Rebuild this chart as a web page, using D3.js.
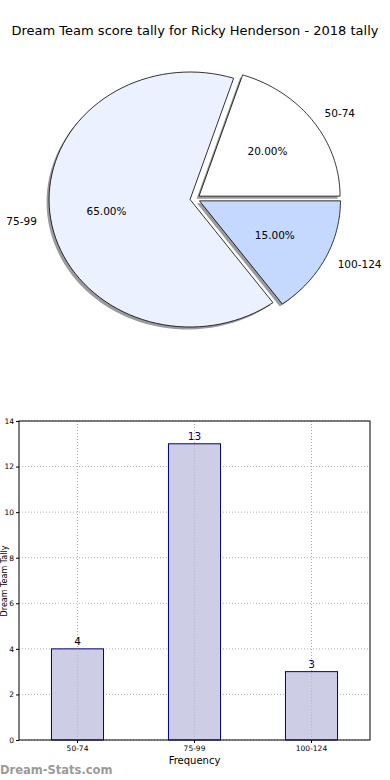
<!DOCTYPE html>
<html><head><meta charset="utf-8">
<script src="https://cdn.jsdelivr.net/npm/d3@7"></script>
<style>body{margin:0;background:#fff}svg{display:block;font-family:"DejaVu Sans",sans-serif}</style>
</head><body>
<svg id="c" width="390" height="780"></svg>
<script>
const title = "Dream Team score tally for Ricky Henderson - 2018 tally";
const categories = ["50-74", "75-99", "100-124"];
const counts = [4, 13, 3];
const pieColors = ["#ffffff", "#ebf1fe", "#c5d8fd"];
const yTicks = [0, 2, 4, 6, 8, 10, 12, 14];
const xLabel = "Frequency";
const yLabel = "Dream Team Tally";
const watermark = "Dream-Stats.com";

const svg = d3.select("#c");
svg.append("text").attr("x", 195).attr("y", 34.5).attr("text-anchor", "middle")
  .attr("font-size", 13).attr("fill", "#000").text(title);

// ---- Pie (elliptical, counter-clockwise from east, all exploded) ----
const cx = 195, cy = 198.8, rx = 141, ry = 127.5, ex = 5 / 141;
const total = d3.sum(counts);
let acc = 0;
const slices = counts.map((v, i) => {
  const a0 = acc / total * 2 * Math.PI; acc += v;
  const a1 = acc / total * 2 * Math.PI;
  return {v, i, a0, a1, mid: (a0 + a1) / 2};
});
const sx = d3.scaleLinear().domain([-1, 1]).range([cx - rx, cx + rx]);
const sy = d3.scaleLinear().domain([-1, 1]).range([cy + ry, cy - ry]);
function wedgePath(s, dx, dy) {
  const ox = ex * Math.cos(s.mid), oy = ex * Math.sin(s.mid);
  const n = 80;
  const pts = [[sx(ox) + dx, sy(oy) + dy]];
  for (let k = 0; k <= n; k++) {
    const a = s.a0 + (s.a1 - s.a0) * k / n;
    pts.push([sx(ox + Math.cos(a)) + dx, sy(oy + Math.sin(a)) + dy]);
  }
  return d3.line()(pts) + "Z";
}
const pg = svg.append("g");
slices.forEach(s => {
  pg.append("path").attr("d", wedgePath(s, -2.5, 2.5)).attr("fill", "#7a7a7a").attr("opacity", 0.75);
});
slices.forEach(s => {
  pg.append("path").attr("d", wedgePath(s, 0, 0)).attr("fill", pieColors[s.i])
    .attr("stroke", "#000").attr("stroke-width", 0.8).attr("stroke-linejoin", "miter");
});
slices.forEach(s => {
  const ox = ex * Math.cos(s.mid), oy = ex * Math.sin(s.mid);
  const c = Math.cos(s.mid), sn = Math.sin(s.mid);
  pg.append("text").attr("x", sx(ox + 1.1 * c)).attr("y", sy(oy + 1.1 * sn))
    .attr("dy", "0.35em").attr("text-anchor", c >= 0 ? "start" : "end")
    .attr("font-size", 10.5).text(categories[s.i]);
  pg.append("text").attr("x", sx(ox + 0.6 * c)).attr("y", sy(oy + 0.6 * sn))
    .attr("dy", "0.35em").attr("text-anchor", "middle")
    .attr("font-size", 10.5).text((s.v / total * 100).toFixed(2) + "%");
});

// ---- Bar chart ----
const L = 19, R = 370, T = 421, B = 740;
const x = d3.scaleBand().domain(categories).range([L, R]).paddingInner(0).paddingOuter(0);
const y = d3.scaleLinear().domain([0, 14]).range([B, T]);
const g = svg.append("g");
const bw = x.bandwidth() * 0.445;
// grid
g.selectAll(".hg").data(yTicks).enter().append("line")
  .attr("x1", L).attr("x2", R).attr("y1", d => y(d)).attr("y2", d => y(d))
  .attr("stroke", "#b0b0b0").attr("stroke-width", 1).attr("stroke-dasharray", "1,2");
g.selectAll(".vg").data(categories).enter().append("line")
  .attr("x1", d => x(d) + x.bandwidth() / 2).attr("x2", d => x(d) + x.bandwidth() / 2)
  .attr("y1", T).attr("y2", B)
  .attr("stroke", "#b0b0b0").attr("stroke-width", 1).attr("stroke-dasharray", "1,2");
g.selectAll(".bar").data(counts).enter().append("rect")
  .attr("x", (d, i) => x(categories[i]) + x.bandwidth() / 2 - bw / 2)
  .attr("y", d => y(d)).attr("width", bw).attr("height", d => B - y(d))
  .attr("fill", "#cdcde5").attr("stroke", "#000080").attr("stroke-width", 1);
g.selectAll(".vg2").data(categories).enter().append("line")
  .attr("x1", d => x(d) + x.bandwidth() / 2).attr("x2", d => x(d) + x.bandwidth() / 2)
  .attr("y1", T).attr("y2", B)
  .attr("stroke", "#a8a8b8").attr("stroke-width", 1).attr("stroke-dasharray", "1,2").attr("opacity", 0.6);
g.selectAll(".val").data(counts).enter().append("text")
  .attr("x", (d, i) => x(categories[i]) + x.bandwidth() / 2)
  .attr("y", d => y(d) - 4).attr("text-anchor", "middle").attr("font-size", 10.5)
  .attr("fill", (d, i) => i === 0 ? "#000" : "#000080").text(d => d);
g.append("rect").attr("x", L).attr("y", T).attr("width", R - L).attr("height", B - T)
  .attr("fill", "none").attr("stroke", "#000").attr("stroke-width", 1);
// axes
const ya = g.append("g").attr("transform", `translate(${L},0)`)
  .call(d3.axisLeft(y).tickValues(yTicks).tickSize(3).tickPadding(2).tickFormat(d3.format("d")));
ya.select(".domain").remove();
ya.selectAll("text").attr("font-size", 7.5).attr("font-family", "DejaVu Sans");
const xa = g.append("g").attr("transform", `translate(0,${B})`)
  .call(d3.axisBottom(x).tickSize(3).tickPadding(3));
xa.select(".domain").remove();
xa.selectAll("text").attr("font-size", 7.5).attr("font-family", "DejaVu Sans");
g.append("text").attr("x", (L + R) / 2).attr("y", 764).attr("text-anchor", "middle")
  .attr("font-size", 10).text(xLabel);
g.append("text").attr("transform", `translate(7,581) rotate(-90)`).attr("text-anchor", "middle")
  .attr("font-size", 8).text(yLabel);
svg.append("text").attr("x", 0).attr("y", 774).attr("font-size", 11.5).attr("font-weight", "bold")
  .attr("fill", "#9a9a9a").text(watermark);
</script>
</body></html>
